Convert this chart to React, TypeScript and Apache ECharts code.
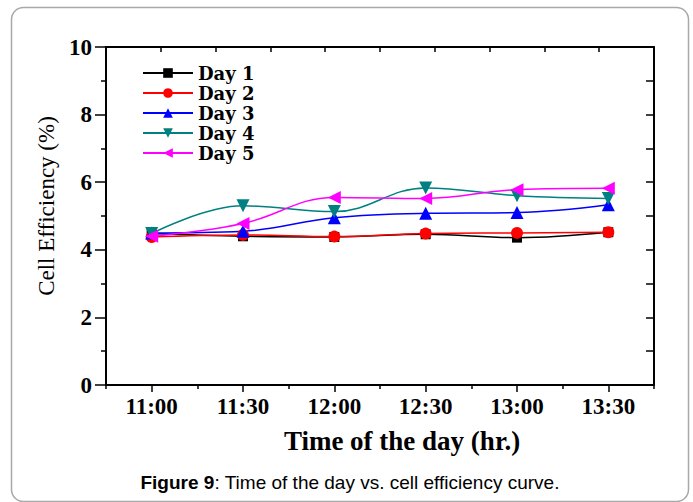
import React, { useEffect, useRef } from "react";
import * as echarts from "echarts";

const categories = ["11:00", "11:30", "12:00", "12:30", "13:00", "13:30"];
const day1 = [4.48, 4.4, 4.38, 4.46, 4.36, 4.52];
const day2 = [4.38, 4.44, 4.39, 4.48, 4.5, 4.52];
const day3 = [4.5, 4.55, 4.95, 5.08, 5.1, 5.33];
const day4 = [4.48, 5.3, 5.13, 5.83, 5.6, 5.52];
const day5 = [4.4, 4.78, 5.55, 5.52, 5.78, 5.82];
const seriesNames = ["Day 1", "Day 2", "Day 3", "Day 4", "Day 5"];
const yTicks = [0, 2, 4, 6, 8, 10];

const SERIF = "Liberation Serif";

export default function App() {
  const ref = useRef<HTMLDivElement>(null);
  useEffect(() => {
    if (!ref.current) return;
    const chart = echarts.init(ref.current, undefined, { renderer: "svg" });
    const colors = ["#000000", "#ff0000", "#0000ff", "#008080", "#ff00ff"];
    const symbols = [
      "rect",
      "circle",
      "path://M5,0 L10,9 L0,9 Z",
      "path://M0,0 L10,0 L5,9 Z",
      "path://M0,5 L9,0 L9,10 Z",
    ];
    const sizes = [10, 12, 13, 13, 13];
    const data = [day1, day2, day3, day4, day5];
    const axisLineStyle = { color: "#000", width: 2 };
    const tickLabel = {
      fontFamily: SERIF,
      fontWeight: "bold",
      fontSize: 23,
      color: "#000",
    };
    chart.setOption({
      animation: false,
      backgroundColor: "#fff",
      textStyle: { fontFamily: SERIF },
      grid: { left: 106, right: 39, top: 47, bottom: 117, containLabel: false },
      legend: {
        orient: "vertical",
        left: 137,
        top: 59,
        itemWidth: 50,
        itemHeight: 12,
        itemGap: 2,
        data: seriesNames,
        textStyle: {
          fontFamily: "DejaVu Serif",
          fontWeight: "bold",
          fontSize: 18,
          color: "#000",
          lineHeight: 18,
        },
      },
      xAxis: [
        {
          type: "category",
          data: categories,
          boundaryGap: true,
          position: "bottom",
          axisLine: { show: true, lineStyle: axisLineStyle },
          axisTick: { show: true, alignWithLabel: true, length: 7, lineStyle: { color: "#000", width: 1.5 } },
          axisLabel: { margin: 10, ...tickLabel },
          splitLine: { show: false },
          name: "Time of the day (hr.)",
          nameLocation: "middle",
          nameGap: 42,
          nameTextStyle: {
            fontFamily: SERIF,
            fontWeight: "bold",
            fontSize: 27,
            color: "#000",
            padding: [0, 0, 0, 44],
          },
        },
        {
          type: "category",
          data: categories,
          boundaryGap: true,
          position: "bottom",
          axisLine: { show: false },
          axisTick: { show: true, length: 4, lineStyle: { color: "#000", width: 1.5 } },
          axisLabel: { show: false },
          splitLine: { show: false },
        },
        {
          type: "value",
          position: "top",
          min: 0,
          max: 10,
          interval: 1,
          axisLine: { show: true, lineStyle: axisLineStyle },
          axisTick: { show: true, inside: true, length: 5, lineStyle: { color: "#000", width: 1.5 } },
          axisLabel: { show: false },
          splitLine: { show: false },
        },
      ],
      yAxis: [
        {
          type: "value",
          position: "left",
          min: yTicks[0],
          max: yTicks[yTicks.length - 1],
          interval: 2,
          axisLine: { show: true, lineStyle: axisLineStyle },
          axisTick: { show: true, length: 11, lineStyle: { color: "#000", width: 1.5 } },
          minorTick: { show: true, splitNumber: 2, length: 5, lineStyle: { color: "#000", width: 1.5 } },
          axisLabel: { margin: 14, ...tickLabel },
          splitLine: { show: false },
          minorSplitLine: { show: false },
          name: "Cell Efficiency (%)",
          nameLocation: "middle",
          nameGap: 37,
          nameTextStyle: {
            fontFamily: SERIF,
            fontSize: 23,
            color: "#000",
            padding: [0, 0, 0, 20],
          },
        },
        {
          type: "value",
          position: "right",
          min: 0,
          max: 10,
          interval: 1,
          axisLine: { show: true, lineStyle: axisLineStyle },
          axisTick: { show: true, inside: true, length: 8, lineStyle: { color: "#000", width: 1.5 } },
          axisLabel: { show: false },
          splitLine: { show: false },
        },
      ],
      series: seriesNames.map((name, i) => ({
        name,
        type: "line",
        xAxisIndex: 0,
        yAxisIndex: 0,
        data: data[i],
        smooth: 0.4,
        symbol: symbols[i],
        symbolSize: sizes[i],
        showAllSymbol: true,
        color: colors[i],
        lineStyle: { color: colors[i], width: 1.5 },
        itemStyle: { color: colors[i] },
      })),
      graphic: [
        {
          type: "rect",
          z: -10,
          shape: { x: 11.5, y: 7.5, width: 677, height: 494, r: 12 },
          style: { fill: "none", stroke: "#a8a8a8", lineWidth: 1.5 },
          silent: true,
        },
        {
          type: "text",
          x: 350,
          y: 482,
          style: {
            text: "{b|Figure 9}: Time of the day vs. cell efficiency curve.",
            fontFamily: "Liberation Sans",
            fontSize: 19,
            fill: "#000",
            align: "center",
            verticalAlign: "middle",
            rich: {
              b: {
                fontFamily: "Liberation Sans",
                fontSize: 19,
                fontWeight: "bold",
                fill: "#000",
              },
            },
          },
        },
      ],
    });
    return () => chart.dispose();
  }, []);
  return (
    <div
      ref={ref}
      style={{ position: "absolute", left: 0, top: 0, width: 693, height: 502 }}
    />
  );
}
